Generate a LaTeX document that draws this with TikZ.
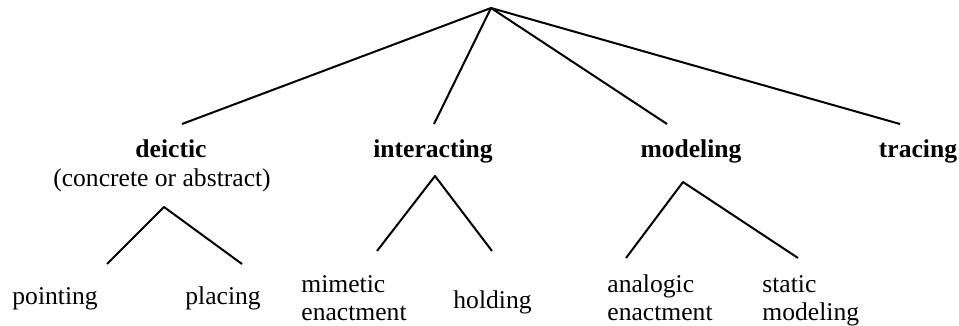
\documentclass[tikz,border=0pt]{standalone}
\usepackage{fontspec}
\setmainfont{Liberation Serif}
\tikzset{fig/.style={line join=round,x=0.5pt,y=-0.5pt},
  leaf/.style={font=\fontsize{12.8}{14}\selectfont,inner sep=0pt,align=left},
  kind/.style={font=\fontsize{12.8}{14}\selectfont\bfseries,inner sep=0pt},
  branch/.style={line width=1pt}}

\begin{document}
\begin{tikzpicture}[fig]
  \useasboundingbox(0,0)rectangle(959,326);
  % top level
  \coordinate(root)at(491,8);
  \node[kind,anchor=base](deictic)at(171,157){deictic};
  \node[leaf,anchor=base](deicticnote)at(162,186){(concrete or abstract)};
  \node[kind,anchor=base](interacting)at(433,157){interacting};
  \node[kind,anchor=base](modeling)at(691,157){modeling};
  \node[kind,anchor=base](tracing)at(918,157){tracing};
  \coordinate(deicticend)at(182,124);
  \coordinate(interactingend)at(434,124);
  \coordinate(modelingend)at(667,124);
  \coordinate(tracingend)at(900,124);
  \foreach \k in {deictic,interacting,modeling,tracing}
    \draw[branch](root)--(\k end);
  % second level
  \node[leaf,anchor=base west](pointing)at(12,304){pointing};
  \node[leaf,anchor=base west](placing)at(185,304){placing};
  \node[leaf,anchor=base west](mimetic)at(301,320){mimetic\\enactment};
  \node[leaf,anchor=base west](holding)at(453,308){holding};
  \node[leaf,anchor=base west](analogic)at(607,320){analogic\\enactment};
  \node[leaf,anchor=base west](static)at(762,320){static\\modeling};
  \coordinate(deicticfork)at(164,207);
  \coordinate(pointingend)at(107,264);
  \coordinate(placingend)at(242,264);
  \coordinate(interactingfork)at(435,176);
  \coordinate(mimeticend)at(377,251);
  \coordinate(holdingend)at(492,251);
  \coordinate(modelingfork)at(683,182);
  \coordinate(analogicend)at(626,258);
  \coordinate(staticend)at(798,258);
  \draw[branch](pointingend)--(deicticfork)--(placingend);
  \draw[branch](mimeticend)--(interactingfork)--(holdingend);
  \draw[branch](analogicend)--(modelingfork)--(staticend);
\end{tikzpicture}
\end{document}
